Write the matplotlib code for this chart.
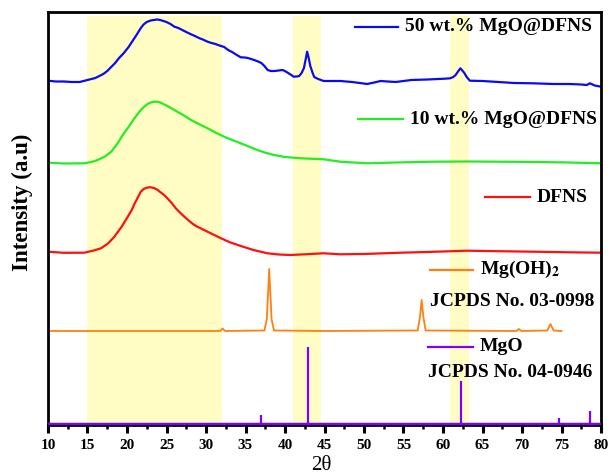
import numpy as np
import matplotlib.pyplot as plt

plt.rcParams['font.family'] = ['Liberation Serif', 'DejaVu Serif']
plt.rcParams['mathtext.fontset'] = 'stix'

# ============================================================
# data (2theta, intensity in arbitrary offset units)
# ============================================================
tt_50 = [10, 11, 12, 13, 14, 15, 16, 17, 17.5, 18, 18.5, 19, 19.6, 20.2, 20.7, 21.2, 21.75,
         22.1, 22.5, 23, 23.4, 23.8, 24.2, 24.6, 25, 25.5, 26, 26.5, 27, 27.5,
         28.1, 28.6, 29.1, 29.6, 30.2, 30.7, 31.2, 31.7, 32.3, 32.8, 33.3, 33.9, 34.4, 34.9,
         35.3, 35.7, 36.1, 36.6, 37, 37.4, 37.8, 38.2, 38.7, 39.2, 39.7, 40.1, 40.4, 40.8,
         41.1, 41.5, 41.8, 42.1, 42.4, 42.6, 42.8, 43.0, 43.2, 43.5, 43.7, 44.2, 44.9, 46,
         47, 48.5, 50.4, 51.3, 52.1, 53, 54, 56, 58, 60.2, 60.9, 61.3, 61.6, 61.9, 62.2,
         62.5, 62.7, 63.0, 63.4, 65, 67, 69, 71.4, 74, 76, 77.5, 78.2, 78.6, 79.2, 80]
int_50 = [343.3, 342.5, 342.5, 342, 342, 344, 346, 350, 353, 357, 361, 366, 371, 377, 383, 389, 396,
          399.5, 402, 403.5, 404, 404.5, 404, 403, 402, 400, 397.3, 396, 394, 392,
          389.7, 388, 386, 384.5, 382.3, 381, 380, 378.5, 377, 374, 372, 369, 366.7, 366.5,
          366, 365, 364, 362.5, 361, 358, 354, 353, 353, 353.5, 354, 352.5, 351, 349,
          347.3, 347.5, 348, 351, 356, 364, 372.3, 366, 358, 351, 347, 345, 343, 343,
          343, 342, 340, 341.5, 343, 342.5, 342, 344, 344.5, 345.3, 345.7, 347, 349, 352.5, 355.7,
          353, 351, 347, 343.3, 343, 342, 341, 340.7, 340, 340, 339.5, 339, 340.7, 338.5, 337.3]

tt_10 = [10, 12, 14.6, 15.5, 16.3, 17.2, 18, 18.8, 19.6, 20.2, 20.7, 21.2, 21.75, 22.2, 22.6,
         23, 23.4, 23.8, 24.2, 24.6, 25, 25.5, 26, 26.5, 27, 27.5,
         28.1, 29.1, 30.2, 31.2, 32.3, 33.3, 34.4, 35.4, 36.5, 37.5, 38.6, 40, 41.1, 42, 44.9,
         47, 50.4, 54, 58.8, 63, 67.2, 72, 76, 80]
int_10 = [261.3, 260.5, 260.7, 262, 264, 267.5, 272.3, 280.5, 290.7, 297, 303, 308.5, 314, 317.5,
          320, 321.5, 322.3, 322.3, 321.5, 320, 318.5, 316.3, 314, 311.7, 309.5, 307,
          304, 300, 295.7, 291.5, 287.3, 284, 280.7, 277.5, 274, 271.3, 269,
          267, 266.3, 265.7, 264.7, 262.3, 260.7, 261.5, 262.3, 262.5, 262.3, 262, 261.5, 260.7]

tt_dfns = [10, 12, 14.6, 15.8, 16.7, 17.6, 18.4, 19.3, 20.1, 20.6, 21, 21.4, 21.75, 22.1, 22.4,
           22.7, 23.0, 23.4, 23.8, 24.2, 24.7, 25.2, 25.7, 26.2, 26.8, 27.3, 27.8, 28.3, 28.9,
           30.4, 31.9, 33.1, 34.4, 36, 37.8, 39.2, 40.7, 42.5, 44.9, 47,
           50, 54.6, 58, 63, 67, 71.4, 76, 80]
int_dfns = [172.3, 171.2, 171.3, 173.5, 175.7, 180.5, 187.3, 197, 207.3, 214, 221, 227, 232.3,
            235, 236, 236.6, 236.7, 236, 234.5, 232, 229, 225, 220.5, 215.5, 210.7, 207, 203.5,
            200.3, 197.3, 191.5, 185.7, 181.5, 178, 174, 170.7, 169.5,
            169, 169.7, 170.7, 169.7, 170, 171.3, 172, 173.3, 172.8, 172.3, 171.7, 171.3]

tt_oh = [10, 20, 31.8, 32.1, 32.4, 37.4, 37.7, 38.0, 38.3, 38.6, 45, 56.8, 57.1, 57.3, 57.5,
         57.8, 69.3, 69.6, 69.9, 73.2, 73.6, 74.0, 75]
int_oh = [93, 93, 93, 95.5, 93, 93.5, 105, 155, 105, 93.5, 93, 93.5, 108, 124, 108,
          93.5, 93, 95, 93, 93.5, 100, 93.5, 93]

mgo_pos = [36.9, 42.9, 62.3, 74.7, 78.6]
mgo_h = [9, 77, 43, 6, 13]

bands = [(15, 32), (41, 44.5), (60.9, 63.3)]

labels = ["50 wt.% MgO@DFNS", "10 wt.% MgO@DFNS", "DFNS",
          r"Mg(OH)$_\mathbf{2}$", "MgO"]
cards = ["JCPDS No. 03-0998", "JCPDS No. 04-0946"]
colors = ["#0a0af0", "#22ee22", "#ff1010", "#ff8010", "#8000ff"]

# ============================================================
# figure
# ============================================================
fig = plt.figure(figsize=(6.09, 4.75), dpi=100)
ax = fig.add_axes([48 / 609, 50 / 475, 553 / 609, 413.5 / 475])

for a, b in bands:
    ax.axvspan(a, b, ymin=0, ymax=0.99, color="#fffcc4", lw=0, zorder=0)

ax.plot(tt_50, int_50, color=colors[0], lw=1.6)
ax.plot(tt_10, int_10, color=colors[1], lw=1.6)
ax.plot(tt_dfns, int_dfns, color=colors[2], lw=1.6)
ax.plot(tt_oh, int_oh, color=colors[3], lw=1.3)
ax.vlines(mgo_pos, 0, mgo_h, color=colors[4], lw=1.6)
ax.axhline(0, color=colors[4], lw=2.5, zorder=3)

ax.set_xlim(10, 80)
ax.set_ylim(-1, 412.5)
ax.set_xticks(np.arange(10, 81, 5))
ax.set_xticks(np.arange(12.5, 80, 5), minor=True)
ax.set_yticks([])
ax.tick_params(axis="x", which="major", direction="out", length=6, width=2.2, pad=4)
ax.tick_params(axis="x", which="minor", direction="out", length=3, width=1.8)
for lab in ax.get_xticklabels():
    lab.set_fontweight("bold")
    lab.set_fontsize(11)
for sp in ax.spines.values():
    sp.set_linewidth(2)

ax.set_xlabel("2θ", fontsize=15)
ax.xaxis.set_label_coords(0.495, -0.076)
ax.set_ylabel("Intensity (a.u)", fontsize=16.5, fontweight="bold")
ax.yaxis.set_label_coords(-0.027, 0.538)

# legend-like labels next to the curves
legend_pos = [(0.555, 0.633, 0.963), (0.561, 0.642, 0.740), (0.790, 0.872, 0.551),
              (0.691, 0.769, 0.375), (0.687, 0.769, 0.189)]
for (x0, x1, y), lab, c in zip(legend_pos, labels, colors):
    ax.plot([x0, x1], [y, y], color=c, lw=1.6, transform=ax.transAxes)
    ax.text(x1 + 0.012, y, lab, transform=ax.transAxes, fontsize=14,
            fontweight="bold", va="center", ha="left")

ax.text(0.691, 0.298, cards[0], transform=ax.transAxes, fontsize=14,
        fontweight="bold", va="center", ha="left")
ax.text(0.687, 0.126, cards[1], transform=ax.transAxes, fontsize=14,
        fontweight="bold", va="center", ha="left")

fig.savefig("out.png", dpi=100)
